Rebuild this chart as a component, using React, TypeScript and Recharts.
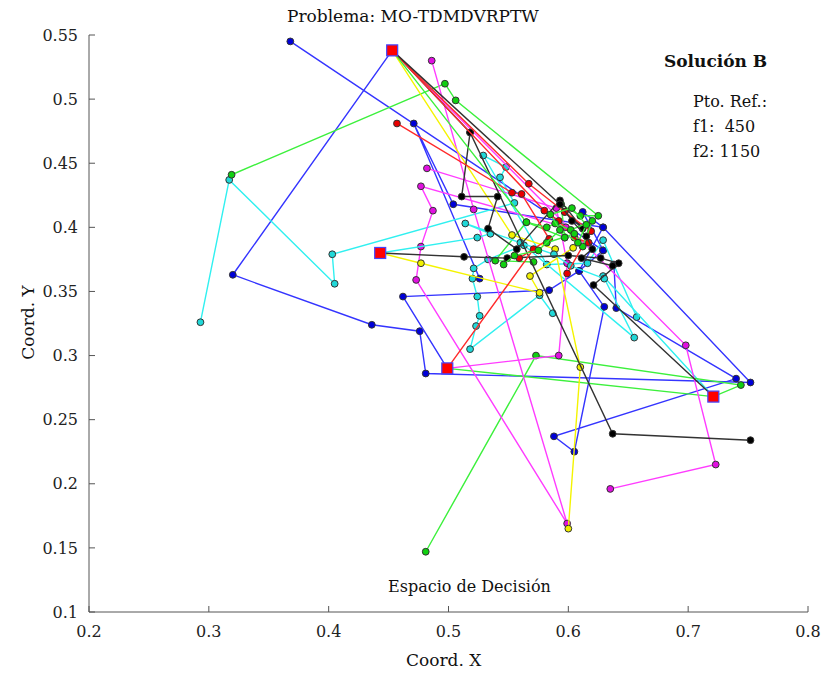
import { ScatterChart, Scatter, XAxis, YAxis } from 'recharts'

// depots (red squares)
const depots = [[0.453, 0.538], [0.443, 0.380], [0.499, 0.290], [0.721, 0.268]]

// routes, one array per vehicle, points as [x, y]
const blueRoute1 = [[0.453, 0.538], [0.320, 0.363], [0.436, 0.324], [0.476, 0.319], [0.481, 0.286], [0.752, 0.279], [0.629, 0.400], [0.612, 0.412], [0.629, 0.382]]
const blueRoute2 = [[0.368, 0.545], [0.629, 0.382], [0.609, 0.366], [0.630, 0.338], [0.605, 0.225], [0.588, 0.237], [0.740, 0.282], [0.640, 0.337], [0.638, 0.371]]
const blueRoute3 = [[0.499, 0.290], [0.462, 0.346], [0.584, 0.351], [0.609, 0.366], [0.629, 0.400], [0.504, 0.418], [0.471, 0.481], [0.526, 0.360]]
const cyanRoute1 = [[0.293, 0.326], [0.317, 0.437], [0.405, 0.356], [0.403, 0.379], [0.555, 0.419], [0.543, 0.439], [0.548, 0.447], [0.529, 0.456], [0.582, 0.371], [0.616, 0.372], [0.629, 0.390], [0.657, 0.330]]
const cyanRoute2 = [[0.721, 0.268], [0.629, 0.362], [0.655, 0.314], [0.563, 0.386], [0.533, 0.375], [0.521, 0.368], [0.520, 0.360], [0.524, 0.346], [0.526, 0.331], [0.523, 0.323], [0.518, 0.305], [0.576, 0.347], [0.587, 0.333]]
const cyanRoute3 = [[0.443, 0.380], [0.524, 0.392], [0.535, 0.395], [0.514, 0.403], [0.560, 0.388], [0.588, 0.379], [0.602, 0.370], [0.630, 0.360]]
const greenRoute1 = [[0.319, 0.441], [0.497, 0.512], [0.506, 0.499], [0.625, 0.409], [0.610, 0.409], [0.594, 0.418], [0.597, 0.392], [0.565, 0.404], [0.539, 0.374], [0.571, 0.373]]
const greenRoute2 = [[0.481, 0.147], [0.573, 0.300], [0.744, 0.277], [0.721, 0.268], [0.499, 0.290]]
const greenRoute3 = [[0.453, 0.538], [0.565, 0.404], [0.582, 0.400], [0.589, 0.403], [0.602, 0.398], [0.620, 0.405], [0.612, 0.385], [0.605, 0.395], [0.582, 0.388]]
const greenRoute4 = [[0.597, 0.392], [0.585, 0.410], [0.603, 0.415], [0.615, 0.402], [0.608, 0.388], [0.593, 0.398], [0.575, 0.382], [0.555, 0.378], [0.546, 0.371]]
const magentaRoute1 = [[0.453, 0.538], [0.698, 0.308], [0.723, 0.215], [0.635, 0.196]]
const magentaRoute2 = [[0.486, 0.530], [0.521, 0.414], [0.599, 0.169], [0.473, 0.359], [0.477, 0.385], [0.487, 0.413], [0.477, 0.432], [0.598, 0.400]]
const magentaRoute3 = [[0.499, 0.290], [0.592, 0.300], [0.599, 0.372], [0.590, 0.415], [0.482, 0.446]]
const yellowRoute1 = [[0.453, 0.538], [0.553, 0.394], [0.589, 0.383], [0.610, 0.291], [0.600, 0.165]]
const yellowRoute2 = [[0.443, 0.380], [0.477, 0.372], [0.576, 0.349], [0.568, 0.362], [0.604, 0.384]]
const blackRoute1 = [[0.453, 0.538], [0.518, 0.474], [0.637, 0.239], [0.752, 0.234]]
const blackRoute2 = [[0.443, 0.380], [0.513, 0.377], [0.549, 0.376], [0.600, 0.378], [0.627, 0.376], [0.642, 0.372], [0.621, 0.355], [0.721, 0.268]]
const blackRoute3 = [[0.518, 0.474], [0.511, 0.424], [0.541, 0.424], [0.533, 0.399], [0.557, 0.383], [0.593, 0.421], [0.612, 0.399], [0.597, 0.412]]
const blackRoute4 = [[0.453, 0.538], [0.593, 0.418], [0.603, 0.405], [0.615, 0.393], [0.620, 0.383], [0.611, 0.376], [0.637, 0.370]]
const redRoute1 = [[0.453, 0.538], [0.567, 0.434], [0.597, 0.412], [0.619, 0.397], [0.599, 0.364]]
const redRoute2 = [[0.457, 0.481], [0.553, 0.427], [0.561, 0.426], [0.584, 0.391], [0.559, 0.376], [0.571, 0.383], [0.499, 0.290]]
const redRoute3 = [[0.453, 0.538], [0.580, 0.413], [0.592, 0.405], [0.605, 0.392], [0.617, 0.388]]

const xTicks = [0.2, 0.3, 0.4, 0.5, 0.6, 0.7, 0.8]
const yTicks = [0.1, 0.15, 0.2, 0.25, 0.3, 0.35, 0.4, 0.45, 0.5, 0.55]

const BLUE = { line: '#3434ff', fill: '#0000d8' }
const CYAN = { line: '#30f0f0', fill: '#20d8d8' }
const GREEN = { line: '#3cf03c', fill: '#10d010' }
const MAGENTA = { line: '#ff3cff', fill: '#e010e0' }
const YELLOW = { line: '#f4f400', fill: '#f0f000' }
const BLACK = { line: '#333333', fill: '#000000' }
const RED = { line: '#ff2a2a', fill: '#e80000' }

const routes = [
  { pts: blueRoute1, ...BLUE },
  { pts: blueRoute2, ...BLUE },
  { pts: blueRoute3, ...BLUE },
  { pts: cyanRoute1, ...CYAN },
  { pts: cyanRoute2, ...CYAN },
  { pts: greenRoute1, ...GREEN },
  { pts: greenRoute2, ...GREEN },
  { pts: magentaRoute1, ...MAGENTA },
  { pts: magentaRoute2, ...MAGENTA },
  { pts: magentaRoute3, ...MAGENTA },
  { pts: yellowRoute1, ...YELLOW },
  { pts: yellowRoute2, ...YELLOW },
  { pts: cyanRoute3, ...CYAN },
  { pts: blackRoute1, ...BLACK },
  { pts: blackRoute2, ...BLACK },
  { pts: blackRoute3, ...BLACK },
  { pts: redRoute1, ...RED },
  { pts: redRoute2, ...RED },
  { pts: redRoute3, ...RED },
  { pts: greenRoute3, ...GREEN },
  { pts: blackRoute4, ...BLACK },
  { pts: greenRoute4, ...GREEN },
]

const toXY = (arr: number[][]) => arr.map(([x, y]) => ({ x, y }))

const font = '"DejaVu Serif", serif'

const Dot = (fill: string) => (props: any) => (
  <circle cx={props.cx} cy={props.cy} r={3.4} fill={fill} stroke="#333" strokeWidth={1} />
)

const Depot = (props: any) => (
  <rect x={props.cx - 5.5} y={props.cy - 5.5} width={11} height={11} fill="#ff0000" stroke="#4444ff" strokeWidth={1.2} />
)

const txt = (left: number, top: number, size: number, s: string, extra: any = {}) => (
  <div style={{ position: 'absolute', left, top, fontSize: size, fontFamily: font, color: '#111', whiteSpace: 'nowrap', lineHeight: 1, ...extra }}>{s}</div>
)

export default function App() {
  return (
    <div style={{ position: 'absolute', left: 0, top: 0, width: 825, height: 676, background: '#fff' }}>
      <ScatterChart width={825} height={676} margin={{ top: 35, right: 17, left: 29, bottom: 34 }}>
        <XAxis
          type="number" dataKey="x" domain={[0.2, 0.8]} ticks={xTicks} allowDataOverflow
          height={30} tickSize={-6} tickMargin={20} stroke="#555"
          tick={{ fill: '#222', fontSize: 16, fontFamily: font }}
        />
        <YAxis
          type="number" dataKey="y" domain={[0.1, 0.55]} ticks={yTicks} allowDataOverflow
          width={60} tickSize={-6} tickMargin={17} stroke="#555"
          tick={{ fill: '#222', fontSize: 16, fontFamily: font }}
        />
        {routes.map((r, i) => (
          <Scatter
            key={i} data={toXY(r.pts)} line={{ stroke: r.line, strokeWidth: 1.4 }}
            shape={Dot(r.fill)} isAnimationActive={false}
          />
        ))}
        <Scatter data={toXY(depots)} shape={Depot} isAnimationActive={false} />
      </ScatterChart>
      {txt(287, 8, 17, 'Problema: MO-TDMDVRPTW')}
      {txt(664, 53, 17, 'Solución B', { fontWeight: 600 })}
      {txt(693, 94, 16, 'Pto. Ref.:')}
      {txt(693, 119, 16, 'f1:  450', { whiteSpace: 'pre' })}
      {txt(693, 144, 16, 'f2: 1150')}
      {txt(388, 579, 16, 'Espacio de Decisión')}
      {txt(406, 652, 17, 'Coord. X')}
      {txt(-12, 314, 17, 'Coord. Y', { transform: 'rotate(-90deg)', transformOrigin: '50% 50%', width: 80, textAlign: 'center' })}
    </div>
  )
}
